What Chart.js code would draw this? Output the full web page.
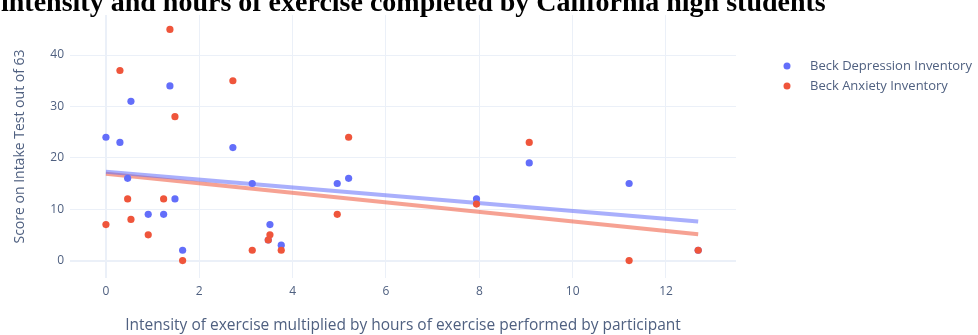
<!DOCTYPE html>
<html>
<head>
<meta charset="utf-8">
<script src="https://cdn.jsdelivr.net/npm/chart.js@4/dist/chart.umd.min.js"></script>
<style>
  html, body { margin: 0; padding: 0; background: #fff; }
  #wrap { position: relative; width: 978px; height: 335px; overflow: hidden; }
  canvas { display: block; }
</style>
</head>
<body>
<div id="wrap"><canvas id="c" width="978" height="335"></canvas></div>
<script>
// ---- data ----
const titleText = "intensity and hours of exercise completed by California high students";
const xTitle = "Intensity of exercise multiplied by hours of exercise performed by participant";
const yTitle = "Score on Intake Test out of 63";
const seriesNames = ["Beck Depression Inventory", "Beck Anxiety Inventory"];

const exerciseScore = [0, 0.30, 0.465, 0.536, 0.906, 1.236, 1.371, 1.479, 1.643, 2.72,
                       3.135, 3.514, 3.478, 3.756, 4.956, 5.2, 7.94, 9.07, 11.21, 12.69];
const depressionScore = [24, 23, 16, 31, 9, 9, 34, 12, 2, 22,
                         15, 7, 4, 3, 15, 16, 12, 19, 15, 2];
const anxietyScore = [7, 37, 12, 8, 5, 12, 45, 28, 0, 35,
                      2, 5, 4, 2, 9, 24, 11, 23, 0, 2];

// OLS trend line end points
const trendX = [0, 12.69];
const depressionTrend = [17.3, 7.6];
const anxietyTrend = [16.9, 5.1];

const xTicks = [0, 2, 4, 6, 8, 10, 12];
const yTicks = [0, 10, 20, 30, 40];

// ---- styling ----
const BLUE = '#636efa';
const RED = '#EF553B';
const GRID = '#EBF0F8';
const TEXT = '#4f6080';

const pts = (xs, ys) => xs.map((x, i) => ({ x: x, y: ys[i] }));

const titlePlugin = {
  id: 'clippedTitle',
  afterDraw(chart) {
    const ctx = chart.ctx;
    ctx.save();
    ctx.fillStyle = '#000';
    ctx.font = 'bold 28px "Liberation Serif", "Times New Roman", serif';
    ctx.textBaseline = 'alphabetic';
    ctx.textAlign = 'left';
    ctx.fillText(titleText, 1, 11);
    ctx.restore();
  }
};

const legendPlugin = {
  id: 'sideLegend',
  afterDraw(chart) {
    const ctx = chart.ctx;
    const items = [{ name: seriesNames[0], color: BLUE }, { name: seriesNames[1], color: RED }];
    ctx.save();
    ctx.font = '13px "Open Sans", sans-serif';
    ctx.textBaseline = 'middle';
    ctx.textAlign = 'left';
    items.forEach((it, i) => {
      const y = 66 + i * 20;
      ctx.beginPath();
      ctx.arc(787, y, 3.5, 0, Math.PI * 2);
      ctx.fillStyle = it.color;
      ctx.fill();
      ctx.fillStyle = TEXT;
      ctx.fillText(it.name, 810, y);
    });
    ctx.restore();
  }
};

new Chart(document.getElementById('c'), {
  type: 'scatter',
  data: {
    datasets: [
      {
        label: seriesNames[1],
        data: pts(exerciseScore, anxietyScore),
        backgroundColor: RED, borderColor: RED,
        pointRadius: 3.6, pointBorderWidth: 0, order: 0
      },
      {
        label: seriesNames[0],
        data: pts(exerciseScore, depressionScore),
        backgroundColor: BLUE, borderColor: BLUE,
        pointRadius: 3.6, pointBorderWidth: 0, order: 1
      },
      {
        label: seriesNames[0] + ' trend',
        type: 'line',
        data: pts(trendX, depressionTrend),
        borderColor: 'rgba(99,110,250,0.55)', borderWidth: 4,
        pointRadius: 0, fill: false, order: 2
      },
      {
        label: seriesNames[1] + ' trend',
        type: 'line',
        data: pts(trendX, anxietyTrend),
        borderColor: 'rgba(239,85,59,0.55)', borderWidth: 4,
        pointRadius: 0, fill: false, order: 3
      }
    ]
  },
  options: {
    responsive: false,
    animation: false,
    events: [],
    layout: { padding: { left: 0, right: 242, top: 15, bottom: 0 } },
    plugins: { legend: { display: false }, tooltip: { enabled: false }, title: { display: false } },
    scales: {
      x: {
        type: 'linear', min: -0.77, max: 13.5,
        afterBuildTicks: s => { s.ticks = xTicks.map(v => ({ value: v })); },
        afterFit: s => { s.height = 57; },
        border: { display: false },
        grid: {
          color: GRID, drawTicks: false,
          lineWidth: c => (c.tick && c.tick.value === 0 ? 2 : 1)
        },
        ticks: { color: TEXT, padding: 6, font: { family: '"Open Sans", sans-serif', size: 12 } },
        title: {
          display: true, text: xTitle, color: TEXT,
          font: { family: '"Open Sans", sans-serif', size: 15.5 },
          padding: { top: 0, bottom: 0 }
        }
      },
      y: {
        type: 'linear', min: -3.4, max: 47.8,
        afterBuildTicks: s => { s.ticks = yTicks.map(v => ({ value: v })); },
        afterFit: s => { s.width = 70; },
        border: { display: false },
        grid: {
          color: GRID, drawTicks: false,
          lineWidth: c => (c.tick && c.tick.value === 0 ? 2 : 1)
        },
        ticks: { color: TEXT, padding: 6, font: { family: '"Open Sans", sans-serif', size: 12 } },
        title: {
          display: true, text: yTitle, color: TEXT,
          font: { family: '"Open Sans", sans-serif', size: 14 },
          padding: { top: 11.6, bottom: 0 }
        }
      }
    }
  },
  plugins: [titlePlugin, legendPlugin]
});
</script>
</body>
</html>
